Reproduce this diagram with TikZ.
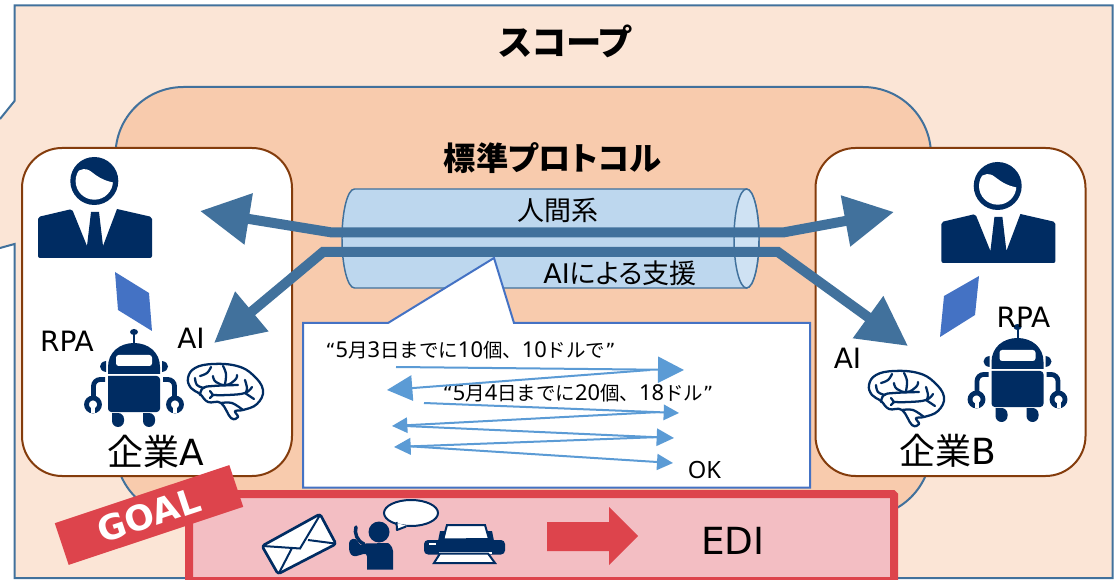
\documentclass[tikz,border=0pt]{standalone}
\usepackage{fontspec}
\usetikzlibrary{arrows.meta}
\setmainfont{DejaVu Sans}
\newfontfamily\jp{Noto Sans CJK JP}
\newfontfamily\jpp[RawFeature=+palt]{Noto Sans CJK JP}
\newfontfamily\lat{DejaVu Sans}
\newfontfamily\num{Noto Sans}
\newcommand\fsz[1]{\fontsize{#1}{#1}\selectfont}
\newcommand\dg[1]{{\num\fsz{16.4}#1}}
\definecolor{navy}{HTML}{002C62}
\definecolor{scopefill}{HTML}{FBE5D6}
\definecolor{protofill}{HTML}{F8CBAD}
\definecolor{edge}{HTML}{41719C}
\definecolor{brownline}{HTML}{843C0C}
\definecolor{cylfill}{HTML}{BDD7EE}
\definecolor{capfill}{HTML}{CFE2F3}
\definecolor{royal}{HTML}{4472C4}
\definecolor{sky}{HTML}{5B9BD5}
\definecolor{goalred}{HTML}{DD444C}
\definecolor{goalfill}{HTML}{F3BEC3}
\tikzset{
  label/.style={inner sep=0pt,text=black},
  company/.style={draw=brownline,line width=1.5pt,fill=white,rounded corners=30pt,
    minimum width=202.5pt,minimum height=246pt,inner sep=0pt},
  bigconn/.style={draw=edge,line width=7.5pt,line join=miter,
    {Triangle[length=37pt,width=37pt]}-{Triangle[length=37pt,width=37pt]}},
  thinconn/.style={draw=sky,line width=1.5pt,-{Triangle[length=#1,width=#1]}},
  brainline/.style={draw=navy,line width=1.7pt,line cap=round},
  personicon/.pic={
    \fill[navy] (94.3,181) circle [radius=24];
    \begin{scope}
      \clip (94.3,181) circle [radius=18.7];
      \fill[white] (70,180) .. controls (76,170) and (83,168) .. (87,169.5)
        .. controls (93,171) and (97,180) .. (116,183) -- (116,210) -- (70,210) -- cycle;
    \end{scope}
    \fill[navy,rounded corners=1.5pt] (38,258) -- (38,217) -- (72,209) [sharp corners] -- (87,246)
      -- (91,212) -- (99,212) -- (103,246) -- (117,209) [rounded corners=1.5pt] -- (152,217) -- (152,258) -- cycle;
  },
  roboticon/.pic={
    \fill[navy] (134,332) ellipse [x radius=4,y radius=3];
    \draw[navy,line width=1.5pt] (134,332) -- (134,344);
    \fill[navy] (108,374) -- (108,367) .. controls (108,352) and (120,343) .. (134,343)
      .. controls (148,343) and (160,352) .. (160,367) -- (160,374) -- cycle;
    \fill[white,rounded corners=2pt] (116,355) rectangle (152,366);
    \fill[navy,rounded corners=2.5pt] (108,376) -- (108,412) -- (160,412) -- (160,376) [sharp corners] -- cycle;
    \fill[navy] (106,361) .. controls (98,362) and (98,371) .. (106,372) -- cycle;
    \fill[navy] (162,361) .. controls (170,362) and (170,371) .. (162,372) -- cycle;
    \draw[navy,line width=3.6pt,rounded corners=5pt] (105,379.5) -- (93.5,379.5) -- (93.5,400);
    \draw[navy,line width=3.6pt,rounded corners=5pt] (163,379.5) -- (174.5,379.5) -- (174.5,400);
    \draw[navy,line width=3.6pt] (93,404.5) circle [radius=6.5];
    \draw[navy,line width=3.6pt] (175,404.5) circle [radius=6.5];
    \fill[white] (91,405) rectangle (95,413);
    \fill[white] (173,405) rectangle (177,413);
    \fill[navy,rounded corners=4.5pt] (112,413) -- (112,427) -- (124,427) -- (124,413) [sharp corners] -- cycle;
    \fill[navy,rounded corners=4.5pt] (143,413) -- (143,427) -- (155,427) -- (155,413) [sharp corners] -- cycle;
  },
  brainicon/.pic={
    \draw[brainline,fill=white,line join=round] plot[smooth cycle,tension=0.7] coordinates {
      (188,378) (195,368) (213,364) (237,366) (253,375) (263,390) (257,404) (243,410) (235,411)
      (238,417) (231,418) (221,403) (208,402) (200,394) (191,388)};
    \draw[brainline] plot[smooth,tension=0.7] coordinates {(200,395) (203,388) (213,386) (238,385)};
    \draw[brainline] plot[smooth,tension=0.7] coordinates {(212,395) (228,395) (245,393) (252,387)};
    \draw[brainline] plot[smooth,tension=0.6] coordinates {(221,403) (232,403) (243,410)};
    \draw[brainline] (245,393) -- (254,399);
    \draw[brainline] (210,391) -- (213,395) -- (210,398);
    \draw[brainline] plot[smooth,tension=0.7] coordinates {(195,378) (197,385) (204,388)};
    \draw[brainline] plot[smooth,tension=0.8] coordinates {(213,376) (216,382) (226,385) (235,380) (237,375)};
    \draw[brainline] plot[smooth,tension=0.7] coordinates {(223,366) (226,374) (225,384)};
    \draw[brainline] plot[smooth,tension=0.7] coordinates {(245,380) (247,388) (246,392)};
    \draw[brainline] plot[smooth,tension=0.7] coordinates {(200,376) (207,373) (211,367)};
  }
}
\begin{document}
\begin{tikzpicture}[x=0.75pt,y=-0.75pt]
\useasboundingbox (0,0) rectangle (1116,580);
% scope shape
\fill[scopefill] (14.5,5.5) -- (1112.5,5.5) -- (1112.5,578) -- (14.5,578) -- (14.5,244) -- (0,248) -- (0,119) -- (14.5,101) -- cycle;
\draw[edge,line width=1.5pt] (0,119) -- (14.5,101) -- (14.5,5.5) -- (1112.5,5.5) -- (1112.5,578) -- (14.5,578) -- (14.5,244) -- (0,248);
\node[label,font=\jpp\bfseries\fsz{26.5}] (scopeT) at (565,41) {スコープ};
% protocol area
\draw[edge,line width=1.5pt,fill=protofill,rounded corners=51pt] (115.5,87) rectangle (931,517);
\node[label,font=\jpp\bfseries\fsz{24.2}] (protoT) at (552.5,158) {標準プロトコル};
% companies
\node[company] (companyA) at (157,312) {};
\node[company] (companyB) at (950.5,312) {};
% icons
\pic at (0,0) {personicon};
\pic at (903.4,5) {personicon};
\fill[royal] (115,272) -- (149,293) -- (152,331) -- (118,310) -- cycle;
\fill[royal] (979,276) -- (975,315) -- (940,337) -- (944,296) -- cycle;
\pic at (0,0) {roboticon};
\pic at (883.5,-5) {roboticon};
\pic at (0,0) {brainicon};
\pic at (681,7) {brainicon};
\node[label,font=\lat\fsz{21}] (rpaA) at (67,341) {RPA};
\node[label,font=\lat\fsz{21}] (aiA) at (191,338) {AI};
\node[label,font=\lat\fsz{21}] (rpaB) at (1023.5,317) {RPA};
\node[label,font=\lat\fsz{21}] (aiB) at (847.5,358) {AI};
\node[label,font=\fsz{27}] (nameA) at (156,452) {\jp 企業\lat A};
\node[label,font=\fsz{27}] (nameB) at (948,451) {\jp 企業\lat B};
% cylinder
\path[draw=edge,line width=1.1pt,fill=cylfill] (354.5,189) .. controls (347.6,189) and (342,211) .. (342,238.5)
  .. controls (342,266) and (347.6,288) .. (354.5,288) -- (746.5,288)
  .. controls (753.4,288) and (759,266) .. (759,238.5) .. controls (759,211) and (753.4,189) .. (746.5,189) -- cycle;
\draw[edge,line width=1.1pt,fill=capfill] (746.5,238.5) ellipse [x radius=12.5,y radius=49.5];
\node[label,font=\jp\fsz{20.25}] (human) at (558,210) {人間系};
\node[label,font=\fsz{20.25}] (aisup) at (620,273) {\lat AI\jpp による支援};
% big connectors
\coordinate (h1) at (200,211);
\coordinate (h2) at (332,232.5);
\coordinate (h3) at (783,232.5);
\coordinate (h4) at (894,212);
\coordinate (a1) at (214,343);
\coordinate (a2) at (323,252);
\coordinate (a3) at (778,252);
\coordinate (a4) at (908,346);
\draw[bigconn] (h1) -- (h2) -- (h3) -- (h4);
\draw[bigconn] (a1) -- (a2) -- (a3) -- (a4);
% callout
\draw[royal,line width=1.5pt,fill=white] (303,323) -- (388,323) -- (494,258) -- (514,323) -- (810,323) -- (810,487.5) -- (303,487.5) -- cycle;
\node[label,font=\fsz{14.6}] (t1) at (470.5,350) {\lat “\dg{5}\jp 月\dg{3}\jp 日までに\dg{10}\jp 個、\dg{10}\jp ドルで\lat ”};
\node[label,font=\fsz{14.6}] (t2) at (578,393) {\lat “\dg{5}\jp 月\dg{4}\jp 日までに\dg{20}\jp 個、\dg{18}\jp ドル\lat ”};
\node[label,font=\num\fsz{17.8}] (okT) at (704.5,470) {OK};
\coordinate (m1) at (396,367); \coordinate (m2) at (684,370);
\coordinate (m3) at (650,370); \coordinate (m4) at (387,390);
\coordinate (m5) at (424,403); \coordinate (m6) at (679,413);
\coordinate (m7) at (660,412); \coordinate (m8) at (392,426);
\coordinate (m9) at (405,426); \coordinate (m10) at (674,438);
\coordinate (m11) at (660,437); \coordinate (m12) at (394,447);
\coordinate (m13) at (405,446); \coordinate (m14) at (673,463);
\draw[thinconn=19.5pt] (m1) -- (m2);
\draw[thinconn=19pt] (m3) -- (m4);
\draw[thinconn=11.5pt] (m5) -- (m6);
\draw[thinconn=11.5pt] (m7) -- (m8);
\draw[thinconn=13pt] (m9) -- (m10);
\draw[thinconn=12.5pt] (m11) -- (m12);
\draw[thinconn=12pt] (m13) -- (m14);
% EDI bar
\draw[goalred,line width=6pt,fill=goalfill,rounded corners=1pt] (189,494) rectangle (894,581);
\node[fill=goalred,text=white,font=\lat\bfseries\fsz{26},minimum width=138pt,minimum height=33pt,inner sep=0pt,rotate=18.4] (goalB) at (149,515) {GOAL};
% envelope
\draw[navy,line width=2pt,fill=white,line join=round,rounded corners=2pt] (320,514) -- (336,544) -- (278,574) -- (262,546) -- cycle;
\draw[navy,line width=1.5pt] (263,546) -- (300,548.5) -- (320,515);
\draw[navy,line width=1.5pt] (308,540) -- (335,543.5);
\draw[navy,line width=1.5pt] (292,548) -- (279,573);
% phone person
\fill[navy] (379,532) circle [radius=10.5];
\fill[navy,rounded corners=2.5pt] (367,569.5) -- (367,553) -- (353,557) -- (349,552) -- (349,540) -- (356,538) -- (360,546) [sharp corners] -- (366,543.5) -- (388,543) [rounded corners=3pt] -- (393,547) [sharp corners] -- (393,569.5) -- cycle;
\draw[navy,line width=2.6pt,line cap=round] (356,527) .. controls (354,533) and (357,541) .. (364,544);
% speech bubble
\draw[navy,line width=1.5pt,fill=white] (411,513) ellipse [x radius=27,y radius=13];
\fill[white] (397,523) -- (397,529) -- (407,526) -- cycle;
\draw[navy,line width=1.5pt,line join=round] (396.5,522) -- (397,530) -- (406,526.5);
% printer
\fill[navy,rounded corners=3pt] (424,540) rectangle (505,554.5);
\draw[navy,line width=1.5pt,fill=white] (447,525) -- (485,525) -- (489,539) -- (443,539.5) -- cycle;
\fill[navy] (440,531) -- (446,531) -- (444,541) -- (438,541) -- cycle;
\fill[navy] (487,531) -- (492,531) -- (494,541) -- (489,541) -- cycle;
\fill[white] (428.5,542.5) rectangle (436,545);
\fill[white] (439,551.5) rectangle (492,553.5);
\draw[navy,line width=1.5pt,fill=white] (440,553.5) -- (488,553.5) -- (495,563) -- (434,563) -- cycle;
% arrow
\fill[goalred] (547,522) -- (609,522) -- (609,507) -- (638,536) -- (609,565) -- (609,551) -- (547,551) -- cycle;
\node[label,font=\lat\fsz{28}] (ediT) at (733,541) {EDI};
\end{tikzpicture}
\end{document}
